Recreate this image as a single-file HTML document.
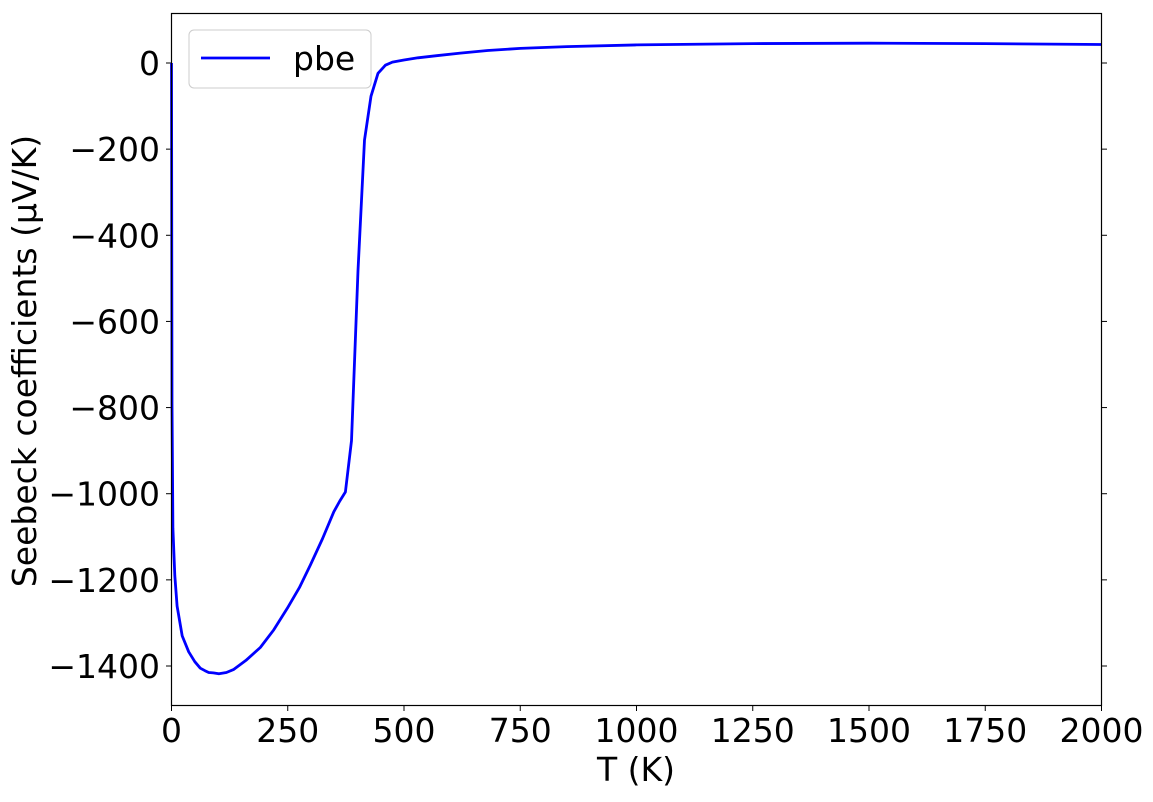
<!DOCTYPE html>
<html><head><meta charset="utf-8"><style>
body{margin:0;background:#fff;}
svg text{font-family:"DejaVu Sans","Liberation Sans",sans-serif;fill:#000;}
</style></head><body>
<svg id="chart" width="1153" height="797" xmlns="http://www.w3.org/2000/svg">
<g id="ticks"></g>
<path id="line" fill="none" stroke="#0000ff" stroke-width="2.8" stroke-linejoin="round"/>
<rect x="171.5" y="13.5" width="930" height="692" fill="none" stroke="#000" stroke-width="1.2"/>
<g>
<rect x="189" y="30" width="182" height="58" rx="5" fill="#fff" fill-opacity="0.8" stroke="#ccc"/>
<line x1="201" y1="58" x2="270" y2="58" stroke="#0000ff" stroke-width="2.8"/>
<text x="293" y="70" font-size="33">pbe</text>
</g>
<text x="636" y="781" font-size="33" text-anchor="middle">T (K)</text>
<text transform="translate(36,361) rotate(-90)" font-size="33" text-anchor="middle">Seebeck coefficients (µV/K)</text>
</svg>
<script>
const temps=[0,1,3,7,12,23,37,50,62,72,80,90,102,118,134,160,191,220,249,275,299,325,349,362,374,387,401,415,429,444,460,475,500,530,570,621,680,750,850,1000,1250,1500,1750,2000];
const seebeck=[0,-792,-1080,-1190,-1261,-1330,-1367,-1390,-1405,-1411,-1415,-1416,-1418,-1415,-1408,-1387,-1357,-1316,-1266,-1218,-1165,-1104,-1042,-1017,-996,-877,-482,-179,-77,-24,-5,2,7,12,17,23,29,34,38,42,45,46,45,43];
const xTicks=[0,250,500,750,1000,1250,1500,1750,2000];
const yTicks=[0,-200,-400,-600,-800,-1000,-1200,-1400];
const X=t=>171.5+t*(930/2000);
const Y=v=>63-v*(603/1400);
const svg=document.getElementById('chart'),g=document.getElementById('ticks'),NS='http://www.w3.org/2000/svg';
function mk(tag,attrs){const e=document.createElementNS(NS,tag);for(const k in attrs)e.setAttribute(k,attrs[k]);return e;}
xTicks.forEach(t=>{
 const l=mk('line',{x1:X(t),x2:X(t),y1:705.5,y2:711,stroke:'#000'});
 
 
 g.appendChild(l);
 const tx=mk('text',{x:X(t),y:742,'font-size':33,'text-anchor':'middle'});
 
 
 tx.textContent=t;g.appendChild(tx);
});
yTicks.forEach(v=>{
 [[166,171.5],[1101.5,1107]].forEach(p=>{
  const l=mk('line',{x1:p[0],x2:p[1],y1:Y(v),y2:Y(v),stroke:'#000'});
  
  
  g.appendChild(l);
 });
 const tx=mk('text',{x:160,y:Y(v)+12,'font-size':33,'text-anchor':'end'});
 
 
 tx.textContent=v<0?'\u2212'+Math.abs(v):v;g.appendChild(tx);
});
document.getElementById('line').setAttribute('d',temps.map((t,i)=>(i?'L':'M')+X(t).toFixed(1)+','+Y(seebeck[i]).toFixed(1)).join(''));
</script>
</body></html>
